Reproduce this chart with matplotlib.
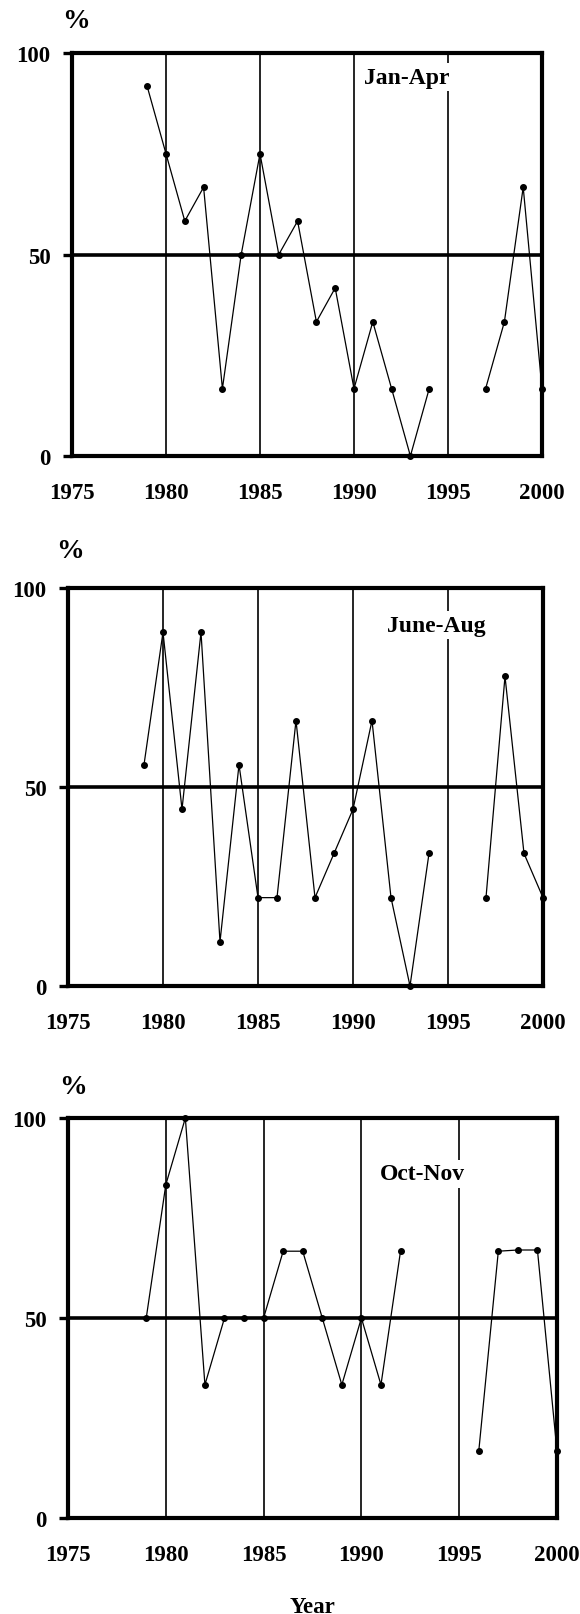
import numpy as np
import matplotlib
matplotlib.use("Agg")
import matplotlib.pyplot as plt

plt.rcParams['font.family'] = ['Liberation Serif', 'DejaVu Serif']
plt.rcParams['font.weight'] = 'bold'

# данные (% по годам)
years = list(range(1979, 2001))
nan = np.nan

jan_apr = [91.7, 75, 58.3, 66.7, 16.7, 50, 75, 50, 58.3, 33.3, 41.7,
           16.7, 33.3, 16.7, 0, 16.7, nan, nan, 16.7, 33.3, 66.7, 16.7]
june_aug = [55.6, 88.9, 44.4, 88.9, 11.1, 55.6, 22.2, 22.2, 66.7, 22.2, 33.3,
            44.4, 66.7, 22.2, 0, 33.3, nan, nan, 22.2, 77.8, 33.3, 22.2]
oct_nov = [50, 83.3, 100, 33.3, 50, 50, 50, 66.7, 66.7, 50, 33.3,
           50, 33.3, 66.7, nan, nan, nan, 16.7, 66.7, 67, 67, 16.7]

series = [jan_apr, june_aug, oct_nov]
season_names = ['Jan-Apr', 'June-Aug', 'Oct-Nov']

x_ticks = [1975, 1980, 1985, 1990, 1995, 2000]
y_ticks = [0, 50, 100]
grid_years = [1980, 1985, 1990, 1995]

W, H = 580, 1615
fig = plt.figure(figsize=(W / 100, H / 100), dpi=100)

# рамки панелей в пикселях: left, top, right, bottom
boxes = [(72, 54, 542, 457), (68, 589, 543, 987), (68, 1119, 557, 1519)]
label_pos = [(1992.8, 94), (1994.4, 90.7), (1993.1, 86)]
pct_pos = [(76, 21), (70, 551), (73, 1088)]

fs = 16.5

for i, vals in enumerate(series):
    l, t, r, b = boxes[i]
    ax = fig.add_axes([l / W, 1 - b / H, (r - l) / W, (b - t) / H])
    ax.set_xlim(1975, 2000)
    ax.set_ylim(0, 100)

    for gx in grid_years:
        ax.axvline(gx, color='black', lw=1.2, zorder=1)
    ax.axhline(50, color='black', lw=2.6, zorder=2)

    ax.plot(years, vals, color='black', lw=0.9, marker='o', ms=4,
            clip_on=False, zorder=3)

    ax.text(label_pos[i][0], label_pos[i][1], season_names[i], fontsize=17,
            fontweight='bold', ha='center', va='center', zorder=4,
            bbox=dict(facecolor='white', edgecolor='none', pad=2.5))

    for s in ax.spines.values():
        s.set_linewidth(3)
    ax.set_xticks(x_ticks)
    ax.set_yticks(y_ticks)
    ax.tick_params(axis='x', length=0, pad=19, labelsize=fs)
    ax.tick_params(axis='y', length=6.5, width=2.4, pad=9, labelsize=fs,
                   direction='out')
    for lab in ax.get_xticklabels() + ax.get_yticklabels():
        lab.set_fontweight('bold')

    fig.text(pct_pos[i][0] / W, 1 - pct_pos[i][1] / H, '%', fontsize=20,
             fontweight='bold', ha='center', va='center')

    if i == 2:
        ax.set_xlabel('Year', fontsize=fs, fontweight='bold', labelpad=22)

fig.savefig('out.png', dpi=100)
